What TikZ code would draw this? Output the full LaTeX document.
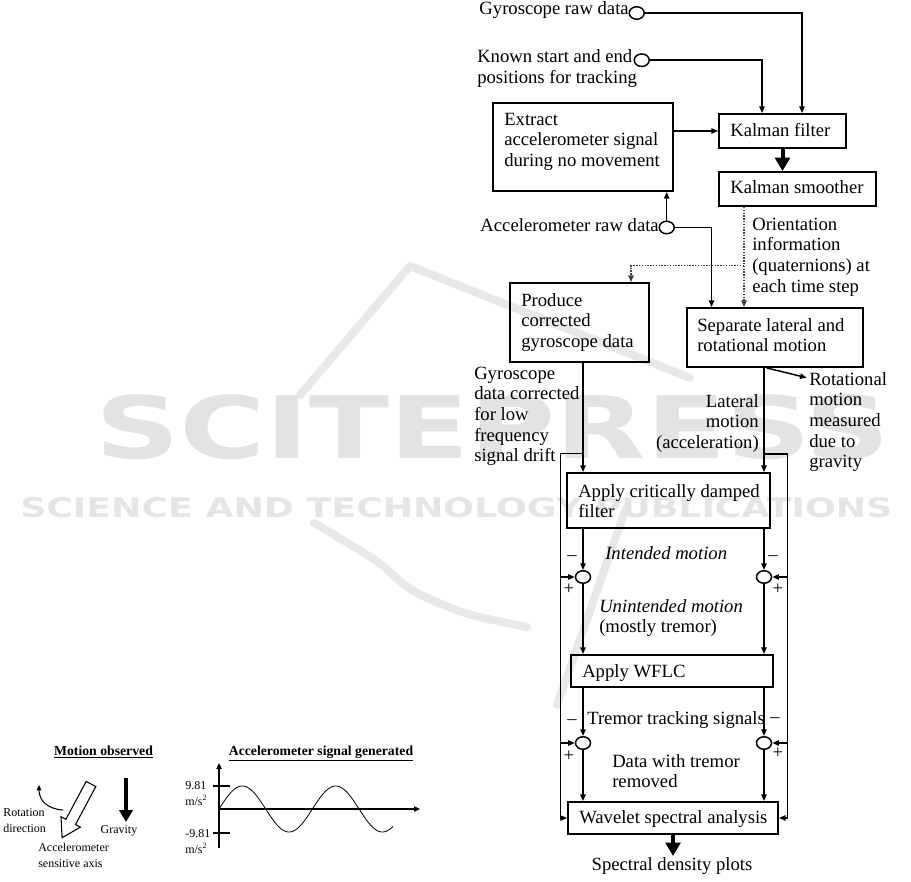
\documentclass[tikz,border=0pt]{standalone}
\usepackage{fontspec}
\setmainfont{Liberation Serif}
\newfontfamily\wmfont{DejaVu Sans}
\usepackage{graphicx}
\usetikzlibrary{arrows.meta,shapes.geometric,fit}
\newlength\pxu \setlength\pxu{0.75pt}
\newcommand\st{\rule{0pt}{10.5pt}}
\newcommand\sst{\rule{0pt}{7.5pt}}
\begin{document}
\begin{tikzpicture}[x=0.75pt,y=-0.75pt,
  main/.style={font=\fontsize{14pt}{15.5pt}\selectfont},
  T/.style={main, inner sep=0pt, anchor=north west, align=left},
  S/.style={font=\fontsize{9pt}{12pt}\selectfont, inner sep=0pt, align=left, anchor=north west},
  H/.style={font=\fontsize{10.3pt}{12pt}\selectfont\bfseries, inner sep=0pt, anchor=base},
  box/.style={draw, line width=1.4pt, inner sep=0pt, rectangle},
  sum/.style={draw, ellipse, line width=1.1pt, minimum width=15*\pxu, minimum height=12.5*\pxu, inner sep=0pt},
  ln/.style={line width=1.1pt},
  arr/.style={ln, -{Triangle[length=5pt,width=4pt]}},
  dotarr/.style={line width=1.1pt, densely dotted, black!75, -{Triangle[length=5pt,width=4pt]}},
  fat/.style={line width=3pt, -{Triangle[length=10pt,width=11pt]}},
  wm/.style={line width=6pt, black!9, line cap=round, line join=round},
  sign/.style={main, inner sep=0pt}
]
\useasboundingbox (0,0) rectangle (911,882);

% ---------- watermark ----------
\draw[wm] (300,395) -- (410,266) -- (690,378);
\draw[wm] plot[smooth] coordinates {(314,523) (375,560) (412,590) (465,613) (527,627)};
\draw[wm] (626,508) -- (557,705);
\node[anchor=base west, inner sep=0pt, text=black!11] (wm1) at (95,458)
  {\resizebox{596pt}{48pt}{\wmfont\bfseries SCITEPRESS}};
\node[anchor=base west, inner sep=0pt, text=black!10] (wm2) at (20,517)
  {\resizebox{654pt}{15pt}{\wmfont\bfseries SCIENCE AND TECHNOLOGY PUBLICATIONS}};

% ---------- boxes ----------
\node[box, fit={(493,103)(673,191)}] (ext) {};
\node[box, fit={(719,114)(846,148)}] (kf) {};
\node[box, fit={(719,172)(876,206)}] (ks) {};
\node[box, fit={(510,283)(649,362)}] (prod) {};
\node[box, fit={(687,308)(863,367)}] (sep) {};
\node[box, fit={(567,473)(770,528)}] (acdf) {};
\node[box, fit={(571,655)(773,687)}] (wflc) {};
\node[box, fit={(568,802)(778,834)}] (ws) {};

% ---------- junctions ----------
\node[sum] (gc) at (636.7,13) {};
\node[sum] (kc) at (641.7,60.2) {};
\node[sum] (ac) at (666.7,227.5) {};
\node[sum] (c1) at (583,577) {};
\node[sum] (c2) at (764,577) {};
\node[sum] (c3) at (583,743) {};
\node[sum] (c4) at (764,743) {};

% ---------- texts ----------
\node[T, anchor=north east] (tg) at (629,0) {\st Gyroscope raw data};
\node[T] (tk) at (477,48.7) {\st Known start and end\\positions for tracking};
\node[T] (text) at (504,111) {\st Extract\\accelerometer signal\\during no movement};
\node[T] (tkf) at (730,122) {\st Kalman filter};
\node[T] (tks) at (730,179) {\st Kalman smoother};
\node[T, anchor=north east] (tac) at (659,217) {\st Accelerometer raw data};
\node[T] (tor) at (752,216) {\st Orientation\\information\\(quaternions) at\\each time step};
\node[T] (tprod) at (521,292) {\st Produce\\corrected\\gyroscope data};
\node[T] (tsep) at (697,317) {\st Separate lateral and\\rotational motion};
\node[T] (tgc) at (474,365) {\st Gyroscope\\data corrected\\for low\\frequency\\signal drift};
\node[T] (trot) at (809,371) {\st Rotational\\motion\\measured\\due to\\gravity};
\node[T, anchor=north east, align=right] (tlat) at (759,393) {\st Lateral\\motion\\(acceleration)};
\node[T] (tacdf) at (578,483) {\st Apply critically damped\\filter};
\node[T] (tint) at (605,545) {\st\itshape Intended motion};
\node[T] (tun) at (599,598) {\st\textit{Unintended motion}\\(mostly tremor)};
\node[T] (twflc) at (582,663) {\st Apply WFLC};
\node[T] (ttr) at (587,710) {\st Tremor tracking signals};
\node[T] (tdr) at (612,753) {\st Data with tremor\\removed};
\node[T] (tws) at (579,809) {\st Wavelet spectral analysis};
\node[T, anchor=north] (spec) at (672,856) {\st Spectral density plots};

% signs
\node[sign] (m1) at (572,558) {–};
\node[sign] (p1) at (569,589) {+};
\node[sign] (m2) at (773,558) {–};
\node[sign] (p2) at (778,589) {+};
\node[sign] (m3) at (572,722) {–};
\node[sign] (p3) at (569,756) {+};
\node[sign] (m4) at (775,720) {–};
\node[sign] (p4) at (778,753) {+};

% ---------- helper coordinates ----------
\coordinate (xg) at (802,0);
\coordinate (xk) at (762,0);
\coordinate (xa) at (711.5,0);
\coordinate (xd) at (744,0);
\coordinate (xp) at (631,0);
\coordinate (yd) at (0,265.7);
\coordinate (L) at (583,0);
\coordinate (R) at (764,0);
\coordinate (LL) at (560.5,0);
\coordinate (RR) at (787.5,0);
\coordinate (ybL) at (0,453.5);
\coordinate (ybR) at (0,454);
\coordinate (xr) at (766.7,0);
\coordinate (rotin) at (806.7,377.7);

% ---------- connectors ----------
\draw[arr] (gc.east) -| (xg |- kf.north);
\draw[arr] (kc.east) -| (xk |- kf.north);
\draw[arr] (ext.east |- kf.west) -- (kf.west);
\draw[fat] (kf.south) -- (kf.south |- ks.north);
\draw[arr] (ac.north) -- (ac.north |- ext.south);
\draw[arr] (ac.east) -| (xa |- sep.north);
\draw[dotarr] (xd |- ks.south) -- (xd |- sep.north);
\draw[dotarr] (xd |- yd) -| (xp |- prod.north);
\draw[arr] (L |- prod.south) -- (L |- acdf.north);
\draw[arr] (R |- sep.south) -- (R |- acdf.north);
\draw[arr] (xr |- sep.south) -- (rotin);

\draw[arr] (L |- ybL) -- (LL |- ybL) -- (LL |- ws.west) -- (ws.west);
\draw[arr] (LL |- c1.west) -- (c1.west);
\draw[arr] (LL |- c3.west) -- (c3.west);
\draw[arr] (R |- ybR) -- (RR |- ybR) -- (RR |- ws.east) -- (ws.east);
\draw[arr] (RR |- c2.east) -- (c2.east);
\draw[arr] (RR |- c4.east) -- (c4.east);

\draw[arr] (L |- acdf.south) -- (c1.north);
\draw[arr] (c1.south) -- (L |- wflc.north);
\draw[arr] (L |- wflc.south) -- (c3.north);
\draw[arr] (c3.south) -- (L |- ws.north);
\draw[arr] (R |- acdf.south) -- (c2.north);
\draw[arr] (c2.south) -- (R |- wflc.north);
\draw[arr] (R |- wflc.south) -- (c4.north);
\draw[arr] (c4.south) -- (R |- ws.north);
\draw[fat] (ws.south) -- (ws.south |- spec.north);

% ---------- bottom-left illustration ----------
\node[H] (mo) at (103.5,755) {\underline{Motion observed}};
\node[H] (asg) at (321,755) {\underline{Accelerometer signal generated}};
\node[S] (rd) at (3,806) {\sst Rotation\\direction};
\node[S] (sa) at (38,841) {\sst Accelerometer\\sensitive axis};
\node[S, anchor=base] (grav) at (119,833) {Gravity};
\node[S] (l1) at (185,779) {\sst 9.81\\m/s\textsuperscript{2}};
\node[S] (l2) at (185,827) {\sst -9.81\\m/s\textsuperscript{2}};

\draw[line width=0.8pt, -{Triangle[length=4pt,width=3.5pt]}] (63,810) .. controls (47,809) and (39,800) .. (39,785);
\draw[line width=0.8pt, line join=miter] (95.8,786.6) -- (75.5,824.5) -- (80.4,827.1) -- (62.1,837.7)
  -- (61.0,816.7) -- (65.9,819.3) -- (86.2,781.4) -- cycle;
\draw[line width=3pt, -{Triangle[length=9pt,width=10pt]}] (126,778) -- (126,822);

\draw[line width=0.9pt, -{Triangle[length=4.5pt,width=4pt]}] (219,848) -- (219,763);
\draw[line width=0.9pt, -{Triangle[length=4.5pt,width=4pt]}] (219,809) -- (420,809);
\draw[line width=0.9pt] (213,786) -- (230,786);
\draw[line width=0.9pt] (213,833) -- (230,833);
\draw[line width=0.6pt] plot[domain=219:393, samples=120, smooth] (\x,{809-23*sin((\x-219)/46.7*180)});
\end{tikzpicture}
\end{document}
